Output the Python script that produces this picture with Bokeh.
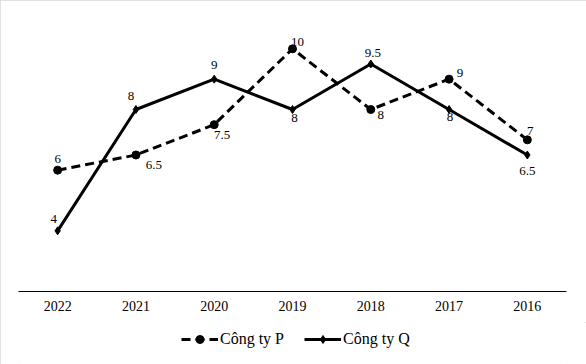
from bokeh.plotting import figure
from bokeh.models import ColumnDataSource, Range1d, Legend, LegendItem
from bokeh.layouts import column
from bokeh.core.properties import value
from bokeh.embed import file_html
from bokeh.resources import INLINE

years = ["2022", "2021", "2020", "2019", "2018", "2017", "2016"]
p_values = [6, 6.5, 7.5, 10, 8, 9, 7]
q_values = [4, 8, 9, 8, 9.5, 8, 6.5]
p_labels = ["6", "6.5", "7.5", "10", "8", "9", "7"]
q_labels = ["4", "8", "9", "8", "9.5", "8", "6.5"]
series_names = ["Công ty P", "Công ty Q"]

# label offsets (screen px)
p_dx = [0, 18, 8, 5, 10, 11, 3]
p_dy = [-11, 10, 10, -7, 5, -6, -9]
q_dx = [-4, -5, 0, 2, 2, 1, 0]
q_dy = [-12, -14, -14, 8, -11, 7, 16]

FONT = "Liberation Serif"

src_p = ColumnDataSource(dict(x=years, y=p_values, t=p_labels, dx=p_dx, dy=p_dy))
src_q = ColumnDataSource(dict(x=years, y=q_values, t=q_labels, dx=q_dx, dy=q_dy))

p = figure(x_range=years, y_range=Range1d(2, 11), width=586, height=322,
           output_backend="svg", toolbar_location=None,
           min_border_left=18, min_border_right=20, min_border_top=18,
           min_border_bottom=31)
p.yaxis.visible = False
p.outline_line_color = None
p.xgrid.grid_line_color = None
p.ygrid.grid_line_color = None
p.background_fill_color = "white"
p.border_fill_color = "white"

ax = p.xaxis[0]
ax.axis_line_color = "black"
ax.axis_line_width = 1
ax.major_tick_line_color = None
ax.minor_tick_line_color = None
ax.major_tick_in = 0
ax.major_tick_out = 0
ax.major_label_text_font = FONT
ax.major_label_text_font_size = "14px"
ax.major_label_text_color = "black"
ax.major_label_standoff = 9

p.line("x", "y", source=src_p, line_color="black", line_width=3, line_dash="9 5")
p.scatter("x", "y", source=src_p, marker="circle", size=8, color="black")
p.line("x", "y", source=src_q, line_color="black", line_width=3)
p.scatter("x", "y", source=src_q, marker="diamond", size=8, color="black")

for s in (src_p, src_q):
    p.text("x", "y", text="t", source=s, x_offset="dx", y_offset="dy",
           text_align="center", text_baseline="middle",
           text_font=value(FONT), text_font_size="13px", text_color="black")

# legend strip (same series, drawn off-range so only the legend shows)
lg = figure(width=586, height=42, output_backend="svg", toolbar_location=None,
            min_border=0, x_range=years, y_range=Range1d(100, 101))
lg.axis.visible = False
lg.grid.visible = False
lg.outline_line_color = None
lp = lg.line("x", "y", source=src_p, line_color="black", line_width=3, line_dash="9 5")
mp = lg.scatter("x", "y", source=src_p, marker="circle", size=8, color="black")
lq = lg.line("x", "y", source=src_q, line_color="black", line_width=3)
mq = lg.scatter("x", "y", source=src_q, marker="diamond", size=8, color="black")

legend = Legend(items=[LegendItem(label=series_names[0], renderers=[lp, mp]),
                       LegendItem(label=series_names[1], renderers=[lq, mq])],
                orientation="horizontal", location=(163, 15),
                label_text_font=FONT, label_text_font_size="16px",
                label_text_color="black", glyph_width=37, label_standoff=2,
                spacing=20, border_line_color=None, background_fill_alpha=0,
                padding=2, margin=0)
lg.add_layout(legend, "center")

layout = column(p, lg, spacing=0,
                styles={"box-shadow": "inset 0 0 0 1px #d9d9d9"})

open("out.html", "w").write(file_html(layout, INLINE))
